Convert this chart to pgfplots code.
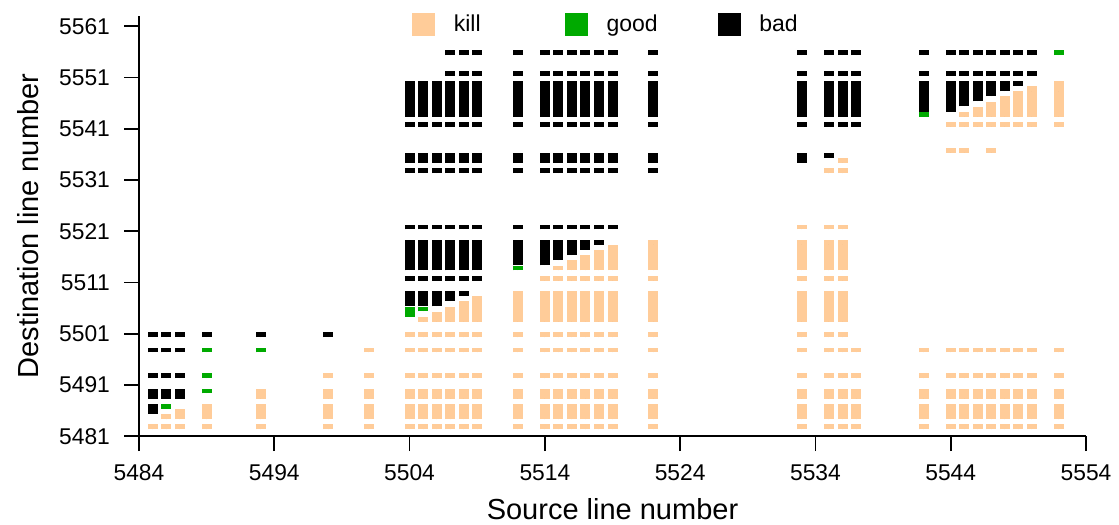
\documentclass[border=0pt]{standalone}
\usepackage{fontspec}
\setmainfont{Liberation Sans}
\usepackage{pgfplots}
\usepackage{pgfplotstable}
\pgfplotsset{compat=1.18}
\definecolor{killc}{RGB}{255,204,153}
\definecolor{goodc}{RGB}{0,170,0}
\definecolor{badc}{RGB}{0,0,0}

% runs of cells: source line x, destination lines a..b
\pgfplotstableread{
x a b
5485 5483 5483
5486 5483 5483
5486 5485 5485
5487 5483 5483
5487 5485 5486
5489 5483 5483
5489 5485 5487
5493 5483 5483
5493 5485 5487
5493 5489 5490
5498 5483 5483
5498 5485 5487
5498 5489 5490
5498 5493 5493
5501 5483 5483
5501 5485 5487
5501 5489 5490
5501 5493 5493
5501 5498 5498
5504 5483 5483
5504 5485 5487
5504 5489 5490
5504 5493 5493
5504 5498 5498
5504 5501 5501
5505 5483 5483
5505 5485 5487
5505 5489 5490
5505 5493 5493
5505 5498 5498
5505 5501 5501
5505 5504 5504
5506 5483 5483
5506 5485 5487
5506 5489 5490
5506 5493 5493
5506 5498 5498
5506 5501 5501
5506 5504 5505
5507 5483 5483
5507 5485 5487
5507 5489 5490
5507 5493 5493
5507 5498 5498
5507 5501 5501
5507 5504 5506
5508 5483 5483
5508 5485 5487
5508 5489 5490
5508 5493 5493
5508 5498 5498
5508 5501 5501
5508 5504 5507
5509 5483 5483
5509 5485 5487
5509 5489 5490
5509 5493 5493
5509 5498 5498
5509 5501 5501
5509 5504 5508
5512 5483 5483
5512 5485 5487
5512 5489 5490
5512 5493 5493
5512 5498 5498
5512 5501 5501
5512 5504 5509
5514 5483 5483
5514 5485 5487
5514 5489 5490
5514 5493 5493
5514 5498 5498
5514 5501 5501
5514 5504 5509
5514 5512 5512
5515 5483 5483
5515 5485 5487
5515 5489 5490
5515 5493 5493
5515 5498 5498
5515 5501 5501
5515 5504 5509
5515 5512 5512
5515 5514 5514
5516 5483 5483
5516 5485 5487
5516 5489 5490
5516 5493 5493
5516 5498 5498
5516 5501 5501
5516 5504 5509
5516 5512 5512
5516 5514 5515
5517 5483 5483
5517 5485 5487
5517 5489 5490
5517 5493 5493
5517 5498 5498
5517 5501 5501
5517 5504 5509
5517 5512 5512
5517 5514 5516
5518 5483 5483
5518 5485 5487
5518 5489 5490
5518 5493 5493
5518 5498 5498
5518 5501 5501
5518 5504 5509
5518 5512 5512
5518 5514 5517
5519 5483 5483
5519 5485 5487
5519 5489 5490
5519 5493 5493
5519 5498 5498
5519 5501 5501
5519 5504 5509
5519 5512 5512
5519 5514 5518
5522 5483 5483
5522 5485 5487
5522 5489 5490
5522 5493 5493
5522 5498 5498
5522 5501 5501
5522 5504 5509
5522 5512 5512
5522 5514 5518
5522 5519 5519
5533 5483 5483
5533 5485 5487
5533 5489 5490
5533 5493 5493
5533 5498 5498
5533 5501 5501
5533 5504 5509
5533 5512 5512
5533 5514 5518
5533 5519 5519
5533 5522 5522
5535 5483 5483
5535 5485 5487
5535 5489 5490
5535 5493 5493
5535 5498 5498
5535 5501 5501
5535 5504 5509
5535 5512 5512
5535 5514 5518
5535 5519 5519
5535 5522 5522
5535 5533 5533
5536 5483 5483
5536 5485 5487
5536 5489 5490
5536 5493 5493
5536 5498 5498
5536 5501 5501
5536 5504 5509
5536 5512 5512
5536 5514 5518
5536 5519 5519
5536 5522 5522
5536 5533 5533
5536 5535 5535
5537 5483 5483
5537 5485 5487
5537 5489 5490
5537 5493 5493
5537 5498 5498
5542 5483 5483
5542 5485 5487
5542 5489 5490
5542 5493 5493
5542 5498 5498
5544 5483 5483
5544 5485 5487
5544 5489 5490
5544 5493 5493
5544 5498 5498
5544 5537 5537
5544 5542 5542
5545 5483 5483
5545 5485 5487
5545 5489 5490
5545 5493 5493
5545 5498 5498
5545 5537 5537
5545 5542 5542
5545 5544 5544
5546 5483 5483
5546 5485 5487
5546 5489 5490
5546 5493 5493
5546 5498 5498
5546 5542 5542
5546 5544 5545
5547 5483 5483
5547 5485 5487
5547 5489 5490
5547 5493 5493
5547 5498 5498
5547 5537 5537
5547 5542 5542
5547 5544 5546
5548 5483 5483
5548 5485 5487
5548 5489 5490
5548 5493 5493
5548 5498 5498
5548 5542 5542
5548 5544 5547
5549 5483 5483
5549 5485 5487
5549 5489 5490
5549 5493 5493
5549 5498 5498
5549 5542 5542
5549 5544 5548
5550 5483 5483
5550 5485 5487
5550 5489 5490
5550 5493 5493
5550 5498 5498
5550 5542 5542
5550 5544 5548
5550 5549 5549
5552 5483 5483
5552 5485 5487
5552 5489 5490
5552 5493 5493
5552 5498 5498
5552 5542 5542
5552 5544 5548
5552 5549 5550
}\killtab

\pgfplotstableread{
x a b
5486 5487 5487
5489 5490 5490
5489 5493 5493
5489 5498 5498
5493 5498 5498
5504 5505 5506
5505 5506 5506
5512 5514 5514
5542 5544 5544
5552 5556 5556
}\goodtab

\pgfplotstableread{
x a b
5485 5486 5487
5485 5489 5490
5485 5493 5493
5485 5498 5498
5485 5501 5501
5486 5489 5490
5486 5493 5493
5486 5498 5498
5486 5501 5501
5487 5489 5490
5487 5493 5493
5487 5498 5498
5487 5501 5501
5489 5501 5501
5493 5501 5501
5498 5501 5501
5504 5507 5509
5504 5512 5512
5504 5514 5518
5504 5519 5519
5504 5522 5522
5504 5533 5533
5504 5535 5536
5504 5542 5542
5504 5544 5548
5504 5549 5550
5505 5507 5509
5505 5512 5512
5505 5514 5518
5505 5519 5519
5505 5522 5522
5505 5533 5533
5505 5535 5536
5505 5542 5542
5505 5544 5548
5505 5549 5550
5506 5507 5509
5506 5512 5512
5506 5514 5518
5506 5519 5519
5506 5522 5522
5506 5533 5533
5506 5535 5536
5506 5542 5542
5506 5544 5548
5506 5549 5550
5507 5508 5509
5507 5512 5512
5507 5514 5518
5507 5519 5519
5507 5522 5522
5507 5533 5533
5507 5535 5536
5507 5542 5542
5507 5544 5548
5507 5549 5550
5507 5552 5552
5507 5556 5556
5508 5509 5509
5508 5512 5512
5508 5514 5518
5508 5519 5519
5508 5522 5522
5508 5533 5533
5508 5535 5536
5508 5542 5542
5508 5544 5548
5508 5549 5550
5508 5552 5552
5508 5556 5556
5509 5512 5512
5509 5514 5518
5509 5519 5519
5509 5522 5522
5509 5533 5533
5509 5535 5536
5509 5542 5542
5509 5544 5548
5509 5549 5550
5509 5552 5552
5509 5556 5556
5512 5515 5518
5512 5519 5519
5512 5522 5522
5512 5533 5533
5512 5535 5536
5512 5542 5542
5512 5544 5548
5512 5549 5550
5512 5552 5552
5512 5556 5556
5514 5515 5518
5514 5519 5519
5514 5522 5522
5514 5533 5533
5514 5535 5536
5514 5542 5542
5514 5544 5548
5514 5549 5550
5514 5552 5552
5514 5556 5556
5515 5516 5518
5515 5519 5519
5515 5522 5522
5515 5533 5533
5515 5535 5536
5515 5542 5542
5515 5544 5548
5515 5549 5550
5515 5552 5552
5515 5556 5556
5516 5517 5518
5516 5519 5519
5516 5522 5522
5516 5533 5533
5516 5535 5536
5516 5542 5542
5516 5544 5548
5516 5549 5550
5516 5552 5552
5516 5556 5556
5517 5518 5518
5517 5519 5519
5517 5522 5522
5517 5533 5533
5517 5535 5536
5517 5542 5542
5517 5544 5548
5517 5549 5550
5517 5552 5552
5517 5556 5556
5518 5519 5519
5518 5522 5522
5518 5533 5533
5518 5535 5536
5518 5542 5542
5518 5544 5548
5518 5549 5550
5518 5552 5552
5518 5556 5556
5519 5522 5522
5519 5533 5533
5519 5535 5536
5519 5542 5542
5519 5544 5548
5519 5549 5550
5519 5552 5552
5519 5556 5556
5522 5533 5533
5522 5535 5536
5522 5542 5542
5522 5544 5548
5522 5549 5550
5522 5552 5552
5522 5556 5556
5533 5535 5536
5533 5542 5542
5533 5544 5548
5533 5549 5550
5533 5552 5552
5533 5556 5556
5535 5536 5536
5535 5542 5542
5535 5544 5548
5535 5549 5550
5535 5552 5552
5535 5556 5556
5536 5542 5542
5536 5544 5548
5536 5549 5550
5536 5552 5552
5536 5556 5556
5537 5542 5542
5537 5544 5548
5537 5549 5550
5537 5552 5552
5537 5556 5556
5542 5545 5548
5542 5549 5550
5542 5552 5552
5542 5556 5556
5544 5545 5548
5544 5549 5550
5544 5552 5552
5544 5556 5556
5545 5546 5548
5545 5549 5550
5545 5552 5552
5545 5556 5556
5546 5547 5548
5546 5549 5550
5546 5552 5552
5546 5556 5556
5547 5548 5548
5547 5549 5550
5547 5552 5552
5547 5556 5556
5548 5549 5550
5548 5552 5552
5548 5556 5556
5549 5550 5550
5549 5552 5552
5549 5556 5556
5550 5552 5552
5550 5556 5556
}\badtab

\begin{document}
\begin{tikzpicture}
\begin{axis}[
  scale only axis,
  width=473.5pt, height=210.125pt,
  xmin=5484, xmax=5554, ymin=5481, ymax=5563,
  enlargelimits=false,
  axis x line*=bottom, axis y line*=left,
  axis line style={line width=1pt, black},
  xtick={5484,5494,...,5554},
  ytick={5481,5491,...,5561},
  tick align=outside,
  major tick length=7.5pt,
  tick style={black, line width=0.9pt},
  /pgf/number format/1000 sep={},
  /pgf/number format/assume math mode=true,
  tick label style={font=\fontsize{11.4}{13}\selectfont},
  xticklabel style={yshift=-3pt},
  yticklabel style={xshift=-3.5pt},
  label style={font=\fontsize{14.5}{17}\selectfont},
  xlabel={Source line number},
  ylabel={Destination line number},
  xlabel style={at={([yshift=-36.5pt]axis description cs:0.5,0)}, anchor=center},
  ylabel style={at={([xshift=-55.5pt]axis description cs:0,0.5)}, anchor=center},
  legend columns=3,
  legend style={draw=none, fill=none, inner sep=0pt, outer sep=0pt,
    at={(axis cs:5504.18,5561.4)}, anchor=west,
    font=\fontsize{11.5}{13}\selectfont,
    nodes={text width=52pt, align=left, inner sep=3.5pt}},
  every axis plot/.append style={only marks, mark size=0pt,
    mark options={draw=none, fill=none}},
]
\addplot[
  legend image code/.code={\fill[killc] (0pt,-5.5pt) rectangle (11pt,5.5pt); \path (17pt,0pt);},
  error bars/.cd, y dir=plus, y explicit, error mark=none,
  error bar style={line width=5pt, killc}]
  table[x=x, y expr=\thisrow{a}-0.65, y error expr=\thisrow{b}-\thisrow{a}+0.95] {\killtab};
\addlegendentry{kill}
\addplot[
  legend image code/.code={\fill[goodc] (0pt,-5.5pt) rectangle (11pt,5.5pt); \path (17pt,0pt);},
  error bars/.cd, y dir=plus, y explicit, error mark=none,
  error bar style={line width=5pt, goodc}]
  table[x=x, y expr=\thisrow{a}-0.65, y error expr=\thisrow{b}-\thisrow{a}+0.95] {\goodtab};
\addlegendentry{good}
\addplot[
  legend image code/.code={\fill[badc] (0pt,-5.5pt) rectangle (11pt,5.5pt); \path (17pt,0pt);},
  error bars/.cd, y dir=plus, y explicit, error mark=none,
  error bar style={line width=5pt, badc}]
  table[x=x, y expr=\thisrow{a}-0.65, y error expr=\thisrow{b}-\thisrow{a}+0.95] {\badtab};
\addlegendentry{bad}
\end{axis}
\pgfresetboundingbox
\path ([xshift=-69.5pt,yshift=-44pt]current axis.south west) rectangle ([xshift=16.5pt,yshift=8pt]current axis.north east);
\end{tikzpicture}
\end{document}
